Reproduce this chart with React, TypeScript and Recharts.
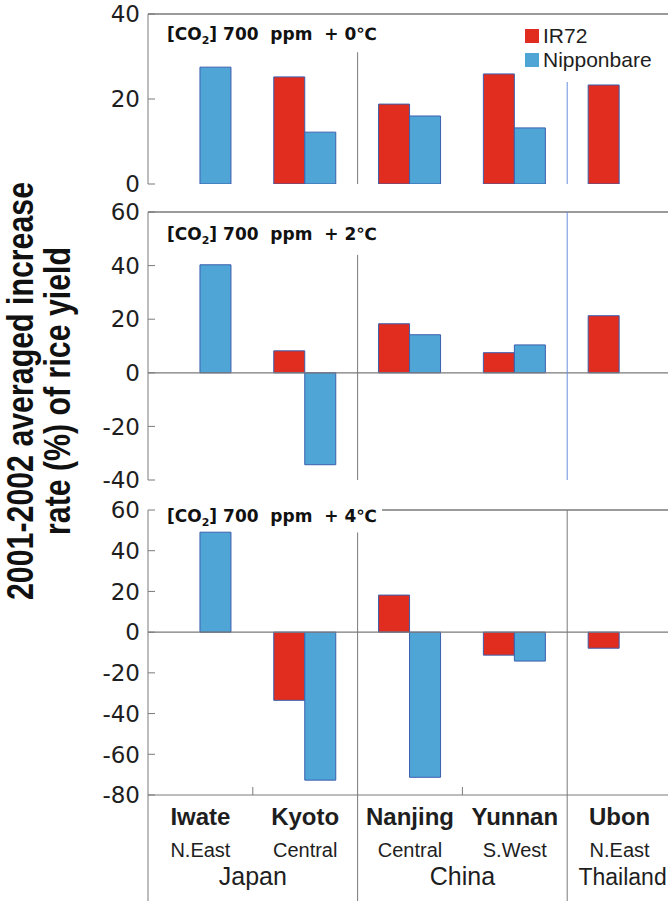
import React from 'react';
import { BarChart, Bar, XAxis, YAxis, ReferenceLine, Legend, CartesianGrid } from 'recharts';

// ---- data ----
const SITES = ['Iwate', 'Kyoto', 'Nanjing', 'Yunnan', 'Ubon'];
const REGIONS = ['N.East', 'Central', 'Central', 'S.West', 'N.East'];
const COUNTRIES = ['Japan', 'Japan', 'China', 'China', 'Thailand'];

const IR72_T0 = [null, 25.2, 18.8, 25.9, 23.3];
const NIPPON_T0 = [27.5, 12.2, 16.0, 13.2, null];
const IR72_T2 = [null, 8.2, 18.3, 7.5, 21.3];
const NIPPON_T2 = [40.3, -34.3, 14.2, 10.4, null];
const IR72_T4 = [null, -33.5, 18.2, -11.3, -7.9];
const NIPPON_T4 = [49.1, -72.7, -71.3, -14.2, null];

const Y_TICKS_T0 = [0, 20, 40];
const Y_TICKS_T2 = [-40, -20, 0, 20, 40, 60];
const Y_TICKS_T4 = [-80, -60, -40, -20, 0, 20, 40, 60];

const PANEL_TITLES = ['0', '2', '4'];

// ---- style ----
const RED = '#e02d1f';
const BLUE = '#4fa5d6';
const EDGE = '#3b5fae';
const GRID = '#7a7a7a';
const DIV_BLUE = '#6b8fdc';
const INK = '#1e1e1e';
const CHART_W = 690;
const AXIS_W = 148;

const N = SITES.length;
const rows = (ir: (number | null)[], nip: (number | null)[]) =>
  SITES.map((s, i) => ({ site: s, pos: i + 0.5, ir72: ir[i], nip: nip[i] }));

const isMajor = (i: number) => i > 0 && COUNTRIES[i - 1] !== COUNTRIES[i];
const BOUNDARIES = SITES.map((_, i) => i);
const MAJOR = BOUNDARIES.filter(isMajor);

const COUNTRY_GROUPS: { name: string; center: number; size: number }[] = [];
COUNTRIES.forEach((c, i) => {
  const last = COUNTRY_GROUPS[COUNTRY_GROUPS.length - 1] as any;
  if (last && last.name === c) {
    last.end = i;
    last.size = i - last.start + 1;
    last.center = (last.start + i + 1) / 2;
  } else {
    COUNTRY_GROUPS.push({ name: c, start: i, end: i, size: 1, center: i + 0.5 } as any);
  }
});

const FULL_TICKS = Array.from(
  new Set([
    ...BOUNDARIES,
    ...SITES.map((_, i) => i + 0.5),
    ...COUNTRY_GROUPS.map((g) => g.center),
  ])
).sort((a, b) => a - b);

const YTick = (props: any) => {
  const { x, y, payload } = props;
  return (
    <g>
      <text
        x={x}
        y={y}
        dy="0.36em"
        textAnchor="end"
        fontFamily="DejaVu Sans"
        fontSize={23}
        fill={INK}
      >
        {payload.value}
      </text>
      <line x1={x + 8} x2={x + 15} y1={y} y2={y} stroke={GRID} strokeWidth={1} />
    </g>
  );
};

const MinorTick = (props: any) => {
  const { x, y, payload } = props;
  const v = payload.value;
  if (v > 0 && !isMajor(v)) {
    return <line x1={x} x2={x} y1={y} y2={y - 8} stroke={GRID} strokeWidth={1} />;
  }
  return <g />;
};

const LabelTick = (props: any) => {
  const { x, y, payload } = props;
  const v = payload.value;
  const parts: any[] = [];
  if (Number.isInteger(v) && v < N) {
    if (v === 0 || isMajor(v)) {
      parts.push(<line key="l" x1={x} x2={x} y1={y} y2={y + 106} stroke={GRID} strokeWidth={1} />);
    } else {
      parts.push(<line key="m" x1={x} x2={x} y1={y} y2={y - 8} stroke={GRID} strokeWidth={1} />);
    }
  }
  const k = v - 0.5;
  if (Number.isInteger(k) && k >= 0 && k < N) {
    parts.push(
      <text key="s" x={x} y={y + 30} textAnchor="middle" fontFamily="Liberation Sans" fontWeight="bold" fontSize={24} fill={INK}>
        {SITES[k]}
      </text>
    );
    parts.push(
      <text key="r" x={x} y={y + 62} textAnchor="middle" fontFamily="Liberation Sans" fontSize={20} fill={INK}>
        {REGIONS[k]}
      </text>
    );
  }
  const g = COUNTRY_GROUPS.find((c) => c.center === v);
  if (g) {
    const single = g.size === 1;
    parts.push(
      <text
        key="c"
        x={single ? x + 3 : x}
        y={y + 90}
        textAnchor="middle"
        fontFamily="Liberation Sans"
        fontSize={single ? 23 : 25}
        fill={INK}
      >
        {g.name}
      </text>
    );
  }
  return <g>{parts}</g>;
};

const LegendBox = (props: any) => {
  const payload = props.payload || [];
  return (
    <div style={{ fontFamily: 'Liberation Sans', fontSize: 21, color: INK }}>
      {payload.map((e: any) => (
        <div key={e.value} style={{ display: 'flex', alignItems: 'center', height: 24 }}>
          <span style={{ display: 'inline-block', width: 14, height: 14, background: e.color, marginRight: 4 }} />
          <span>{e.value}</span>
        </div>
      ))}
    </div>
  );
};

type Divider = { i: number; from: number; to: number; color: string };

const Panel = ({
  top,
  height,
  marginTop,
  marginBottom,
  axisHeight,
  data,
  domain,
  yTicks,
  dividers,
  zeroLine,
  full,
  legend,
  topLine,
}: any) => (
  <div style={{ position: 'absolute', left: 0, top }}>
    <BarChart
      width={CHART_W}
      height={height}
      data={data}
      margin={{ top: marginTop, right: CHART_W - 672, bottom: marginBottom, left: 0 }}
      barCategoryGap="20%"
      barGap={0}
    >
      {topLine && (
        <CartesianGrid
          xAxisId="g"
          vertical={false}
          horizontalValues={[domain[1]]}
          stroke={GRID}
          strokeWidth={1.2}
        />
      )}
      <XAxis xAxisId="cat" dataKey="site" type="category" hide height={0} />
      <XAxis
        xAxisId="g"
        dataKey="pos"
        type="number"
        domain={[0, N]}
        allowDataOverflow
        ticks={full ? FULL_TICKS : BOUNDARIES}
        interval={0}
        height={axisHeight}
        tickSize={0}
        tickMargin={0}
        tickLine={false}
        axisLine={{ stroke: GRID }}
        tick={full ? <LabelTick /> : <MinorTick />}
      />
      <YAxis
        domain={domain}
        ticks={yTicks}
        allowDataOverflow
        interval={0}
        width={AXIS_W}
        tickSize={0}
        tickMargin={8}
        tickLine={false}
        axisLine={{ stroke: GRID }}
        tick={<YTick />}
      />
      {topLine && <ReferenceLine xAxisId="g" y={domain[1]} stroke={GRID} strokeWidth={1.2} ifOverflow="visible" />}
      {zeroLine && <ReferenceLine xAxisId="g" y={0} stroke={GRID} strokeWidth={1.2} ifOverflow="visible" />}
      {dividers.map((d: Divider) => (
        <ReferenceLine
          key={d.i}
          xAxisId="g"
          ifOverflow="visible"
          segment={[
            { x: d.i, y: d.from },
            { x: d.i, y: d.to },
          ]}
          stroke={d.color}
          strokeWidth={1}
        />
      ))}
      <Bar xAxisId="cat" dataKey="ir72" name="IR72" fill={RED} stroke={EDGE} strokeWidth={1} isAnimationActive={false} />
      <Bar xAxisId="cat" dataKey="nip" name="Nipponbare" fill={BLUE} stroke={EDGE} strokeWidth={1} isAnimationActive={false} />
      {legend && (
        <Legend
          layout="vertical"
          align="center"
          verticalAlign="middle"
          content={<LegendBox />}
          wrapperStyle={{ position: 'absolute', top: 24, left: 525, width: 150, height: 50 }}
        />
      )}
    </BarChart>
  </div>
);

const Title = ({ x, y, t }: { x: number; y: number; t: string }) => (
  <text x={x} y={y} fontFamily="DejaVu Sans" fontWeight="bold" fontSize={17} fill="#111" xmlSpace="preserve" style={{ whiteSpace: 'pre' }}>
    [CO
    <tspan fontSize={11} dy={4}>2</tspan>
    <tspan dy={-4}>{`] 700  ppm  + ${t}℃`}</tspan>
  </text>
);

export default function App() {
  return (
    <div style={{ position: 'absolute', left: 0, top: 0, width: 668, height: 901, overflow: 'hidden', background: '#fff' }}>
      <Panel
        top={0}
        height={200}
        marginTop={14}
        marginBottom={16}
        axisHeight={0}
        data={rows(IR72_T0, NIPPON_T0)}
        domain={[0, 40]}
        yTicks={Y_TICKS_T0}
        dividers={[
          { i: MAJOR[0], from: 31, to: 0, color: GRID },
          { i: MAJOR[1], from: 24, to: 0, color: DIV_BLUE },
        ]}
        zeroLine={false}
        full={false}
        legend
        topLine
      />
      <Panel
        top={196}
        height={300}
        marginTop={16}
        marginBottom={16}
        axisHeight={0}
        data={rows(IR72_T2, NIPPON_T2)}
        domain={[-40, 60]}
        yTicks={Y_TICKS_T2}
        dividers={[
          { i: MAJOR[0], from: 44, to: -40, color: GRID },
          { i: MAJOR[1], from: 60, to: -40, color: DIV_BLUE },
        ]}
        zeroLine
        full={false}
        topLine
      />
      <Panel
        top={496}
        height={405}
        marginTop={14}
        marginBottom={0}
        axisHeight={106}
        data={rows(IR72_T4, NIPPON_T4)}
        domain={[-80, 60]}
        yTicks={Y_TICKS_T4}
        dividers={[
          { i: MAJOR[0], from: 49, to: -80, color: GRID },
          { i: MAJOR[1], from: 60, to: -80, color: GRID },
        ]}
        zeroLine
        full
        topLine={false}
      />
      <svg
        width={668}
        height={901}
        style={{ position: 'absolute', left: 0, top: 0, pointerEvents: 'none' }}
      >
        <line x1={382} x2={668} y1={510} y2={510} stroke={GRID} strokeWidth={1.4} />
        <Title x={167} y={40} t={PANEL_TITLES[0]} />
        <Title x={167} y={240} t={PANEL_TITLES[1]} />
        <Title x={167} y={522} t={PANEL_TITLES[2]} />
        <text
          transform="translate(33,391) rotate(-90)"
          textAnchor="middle"
          fontFamily="Liberation Sans"
          fontWeight="bold"
          fontSize={36}
          textLength={418}
          lengthAdjust="spacingAndGlyphs"
          fill="#111"
        >
          2001-2002 averaged increase
        </text>
        <text
          transform="translate(70,391) rotate(-90)"
          textAnchor="middle"
          fontFamily="Liberation Sans"
          fontWeight="bold"
          fontSize={36}
          textLength={288}
          lengthAdjust="spacingAndGlyphs"
          fill="#111"
        >
          rate (%) of rice yield
        </text>
      </svg>
    </div>
  );
}
